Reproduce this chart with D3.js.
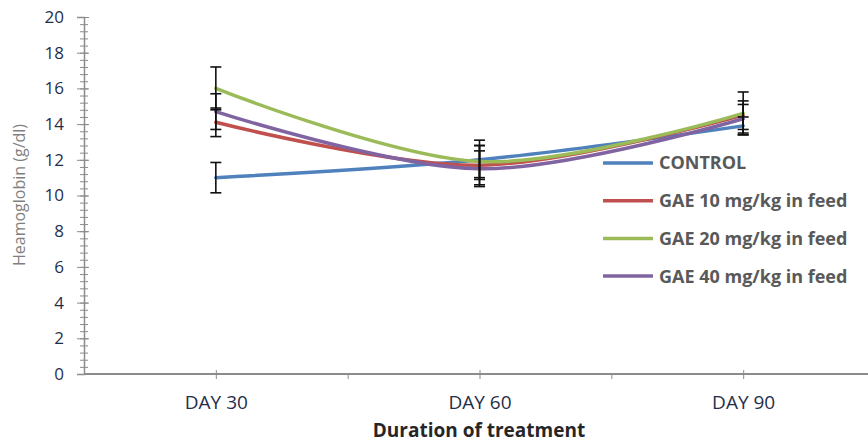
<!DOCTYPE html>
<html>
<head>
<meta charset="utf-8">
<script src="https://cdn.jsdelivr.net/npm/d3@7"></script>
<style>
    body { margin: 0; background: #fff; }
    svg text { font-family: "Open Sans", sans-serif; }
</style>
</head>
<body>
<div id="draw"></div>
<script>
// chart data
var days = [30, 60, 90];
var dayLabels = ['DAY 30', 'DAY 60', 'DAY 90'];
var seriesNames = ['CONTROL', 'GAE 10 mg/kg in feed', 'GAE 20 mg/kg in feed', 'GAE 40 mg/kg in feed'];
var seriesColors = ['#4f81bd', '#c0504d', '#9bbb59', '#8064a2'];
var control = [11.0, 12.0, 13.9];
var gae10 = [14.1, 11.7, 14.5];
var gae20 = [16.0, 11.9, 14.6];
var gae40 = [14.7, 11.5, 14.3];
var controlErr = [0.85, 1.1, 0.5];
var gae10Err = [0.8, 1.1, 0.8];
var gae20Err = [1.2, 0.9, 1.2];
var gae40Err = [1.0, 1.0, 0.8];
var yTicks = [0, 2, 4, 6, 8, 10, 12, 14, 16, 18, 20];

(function () {
    "use strict";

    var width = 868,
        height = 445,
        values = [control, gae10, gae20, gae40],
        errors = [controlErr, gae10Err, gae20Err, gae40Err];

    var svg = d3.select('#draw').append('svg')
        .attr('width', width)
        .attr('height', height);

    var x = d3.scaleLinear().domain([15, 105]).range([84, 875]),
        y = d3.scaleLinear().domain([0, 20]).range([374, 17]);

    // y axis, minor ticks first
    var yMinor = svg.append('g')
        .attr('transform', 'translate(84,0)')
        .call(d3.axisLeft(y).tickValues(d3.range(0, 20.01, 0.4)).tickSize(4).tickFormat(''));
    yMinor.select('.domain').remove();
    yMinor.selectAll('.tick line').attr('x2', -4).attr('x1', 4).attr('stroke', '#8c8c8c');

    var yAxis = svg.append('g')
        .attr('transform', 'translate(84,0)')
        .call(d3.axisLeft(y).tickValues(yTicks).tickSize(7).tickPadding(13));
    yAxis.select('.domain').attr('stroke', '#8c8c8c').attr('stroke-width', 1.5);
    yAxis.selectAll('.tick line').attr('x1', 5).attr('stroke', '#8c8c8c');
    yAxis.selectAll('.tick text')
        .attr('font-size', 17)
        .attr('fill', '#1f2f4a');

    // x axis
    var xMinor = svg.append('g')
        .attr('transform', 'translate(0,374)')
        .call(d3.axisBottom(x).tickValues([45, 75]).tickSize(5).tickFormat(''));
    xMinor.select('.domain').remove();
    xMinor.selectAll('.tick line').attr('stroke', '#8c8c8c');

    var xAxis = svg.append('g')
        .attr('transform', 'translate(0,374)')
        .call(d3.axisBottom(x).tickValues(days).tickSize(5).tickPadding(17)
            .tickFormat(function (d, i) { return dayLabels[i]; }));
    xAxis.select('.domain').attr('stroke', '#8c8c8c').attr('stroke-width', 2)
        .attr('d', 'M84,0H868');
    xAxis.selectAll('.tick line').attr('y1', -4).attr('stroke', '#8c8c8c');
    xAxis.selectAll('.tick text')
        .attr('font-size', 19)
        .attr('fill', '#1f2f4a');

    // axis titles
    svg.append('text')
        .attr('transform', 'translate(25,195) rotate(-90)')
        .attr('text-anchor', 'middle')
        .attr('font-size', 16)
        .attr('fill', '#7f7f7f')
        .text('Heamoglobin (g/dl)');

    svg.append('text')
        .attr('x', 479)
        .attr('y', 437)
        .attr('text-anchor', 'middle')
        .attr('font-size', 19)
        .attr('font-weight', 'bold')
        .attr('fill', '#262626')
        .text('Duration of treatment');

    // smoothed lines
    var line = d3.line()
        .x(function (d, i) { return x(days[i]); })
        .y(function (d) { return y(d); })
        .curve(d3.curveCardinal.tension(0));

    values.forEach(function (v, k) {
        svg.append('path')
            .datum(v)
            .attr('d', line)
            .attr('fill', 'none')
            .attr('stroke', seriesColors[k])
            .attr('stroke-width', 3.5)
            .attr('stroke-linecap', 'round');
    });

    // error bars on top
    values.forEach(function (v, k) {
        var g = svg.append('g').attr('stroke', '#111').attr('stroke-width', 1.6);
        v.forEach(function (d, i) {
            var cx = x(days[i]),
                hi = y(d + errors[k][i]),
                lo = y(d - errors[k][i]);
            g.append('line').attr('x1', cx).attr('x2', cx).attr('y1', hi).attr('y2', lo);
            g.append('line').attr('x1', cx - 5.5).attr('x2', cx + 5.5).attr('y1', hi).attr('y2', hi);
            g.append('line').attr('x1', cx - 5.5).attr('x2', cx + 5.5).attr('y1', lo).attr('y2', lo);
        });
    });

    // legend
    var legend = svg.append('g');
    seriesNames.forEach(function (name, k) {
        var ly = 163 + k * 37.7;
        legend.append('line')
            .attr('x1', 603).attr('x2', 653)
            .attr('y1', ly).attr('y2', ly)
            .attr('stroke', seriesColors[k])
            .attr('stroke-width', 3.5);
        legend.append('text')
            .attr('x', 659)
            .attr('y', ly)
            .attr('dy', '0.36em')
            .attr('font-size', 18)
            .attr('font-weight', 'bold')
            .attr('fill', '#595959')
            .text(name);
    });
}());
</script>
</body>
</html>
